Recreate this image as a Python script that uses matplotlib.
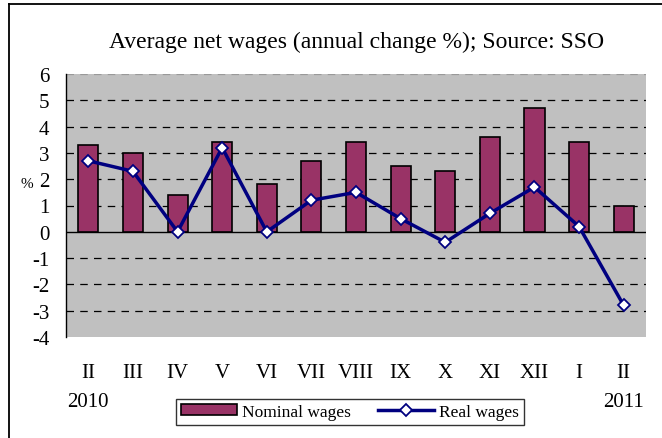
import matplotlib
matplotlib.use("Agg")
import matplotlib.pyplot as plt
from matplotlib.lines import Line2D
import numpy as np

months = ["II", "III", "IV", "V", "VI", "VII", "VIII", "IX", "X", "XI", "XII", "I", "II"]
nominal = [3.3, 3.0, 1.4, 3.4, 1.8, 2.7, 3.4, 2.5, 2.3, 3.6, 4.7, 3.4, 1.0]
real = [2.7, 2.3, 0.0, 3.2, 0.0, 1.2, 1.5, 0.5, -0.4, 0.7, 1.7, 0.2, -2.8]
years = {0: "2010", 12: "2011"}

plt.rcParams["font.family"] = ["Liberation Serif", "DejaVu Serif"]

fig = plt.figure(figsize=(6.62, 4.39), dpi=100)
W, H = 662, 439
ax = fig.add_axes([66 / W, 1 - 338 / H, (646 - 66) / W, (338 - 75) / H])
ax.set_facecolor("#C0C0C0")

x = np.arange(len(months))
bars = ax.bar(x, nominal, width=0.45, color="#993366", edgecolor="black", linewidth=1.2,
              label="Nominal wages", zorder=3)
line, = ax.plot(x, real, color="#000080", linewidth=2.5, marker="D", markersize=6,
                markerfacecolor="white", markeredgecolor="#000080", markeredgewidth=1.3,
                label="Real wages", zorder=4)
ax.axhline(0, color="black", linewidth=1, zorder=2)

ax.set_xlim(-0.5, len(months) - 0.5)
ax.set_ylim(-4, 6)
ax.set_yticks(range(-4, 7))
ax.set_yticklabels([str(v) for v in range(-4, 7)], fontsize=15)
for v in range(-3, 6):
    if v != 0:
        ax.axhline(v, color="black", linewidth=0.9, dashes=(6, 5), zorder=1)
ax.axhline(6, color="#999999", linewidth=0.9, dashes=(6, 5), zorder=1)

ax.set_xticks(x)
ax.set_xticklabels(months, fontsize=15)
ax.tick_params(axis="both", length=0)
ax.tick_params(axis="x", pad=19)
ax.tick_params(axis="y", pad=12)
for s in ["top", "right", "bottom"]:
    ax.spines[s].set_visible(False)
ax.spines["left"].set_linewidth(1)

for i, yr in years.items():
    ax.text(i, -6.45, yr, ha="center", va="center", fontsize=15,
            transform=ax.transData)

fig.text(27 / W, 1 - 184 / H, "%", ha="center", va="center", fontsize=11)
fig.text(357 / W, 1 - 42 / H, "Average net wages (annual change %); Source: SSO",
         ha="center", va="center", fontsize=17)

leg = fig.legend([bars, line], ["Nominal wages", "Real wages"], loc="center",
                 bbox_to_anchor=(350 / W, 1 - 413 / H), ncol=2,
                 fontsize=12.5, frameon=True, fancybox=False, edgecolor="black",
                 borderpad=0.3, handlelength=3.2, handleheight=0.6,
                 columnspacing=1.6, handletextpad=0.3)
leg.get_frame().set_linewidth(1)

fig.add_artist(Line2D([9 / W, 1], [1 - 5 / H, 1 - 5 / H], color="black", linewidth=1.3,
                      transform=fig.transFigure))
fig.add_artist(Line2D([9 / W, 9 / W], [0, 1 - 5 / H], color="black", linewidth=1.3,
                      transform=fig.transFigure))

fig.savefig("out.png", dpi=100)
